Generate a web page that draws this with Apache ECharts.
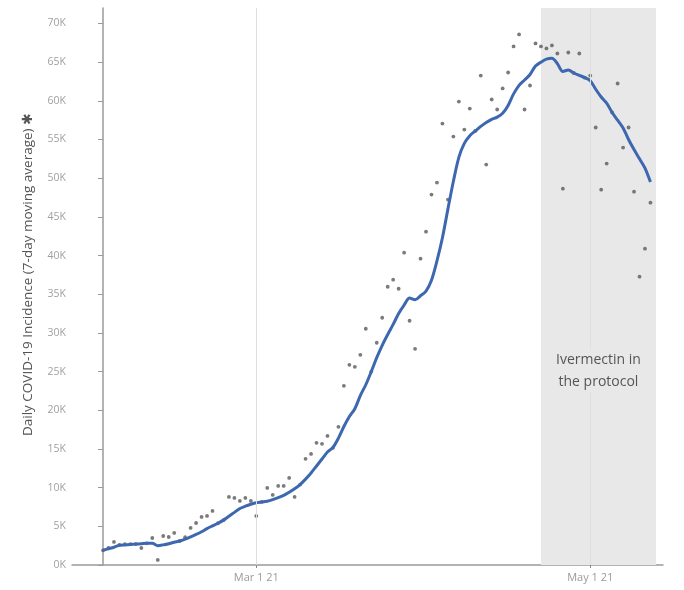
<!DOCTYPE html>
<html><head><meta charset="utf-8">
<script src="https://cdn.jsdelivr.net/npm/echarts@6/dist/echarts.min.js"></script>
<style>html,body{margin:0;padding:0;background:#fff}#c{width:684px;height:590px}</style>
</head><body><div id="c"></div>
<script>
// Day 0 = Feb 1 2021
const startDate = '2021-02-01';
const movingAvg = [
  1900,2100,2300,2550,2600,2650,2700,2750,2800,2800,
  2500,2600,2750,2950,3100,3350,3650,3950,4300,4700,
  5050,5400,5800,6300,6800,7300,7600,7850,8050,8150,
  8250,8450,8700,9000,9400,9850,10400,11100,11900,12800,
  13700,14600,15200,16400,17900,19200,20200,21900,23300,25000,
  26800,28400,29800,31100,32500,33600,34500,34300,34800,35400,
  36800,39300,42300,46000,49600,52700,54500,55500,56100,56700,
  57200,57600,57900,58400,59400,60900,62000,62700,63400,64500,
  65000,65400,65500,64800,63800,64000,63600,63300,63000,62600,
  61500,60500,59700,58500,57500,56500,55000,53700,52500,51300,
  49500
];
const dailyCases = [
  1900,2200,2980,2600,2700,2700,2700,2200,2800,3490,
  650,3750,3620,4140,3100,3600,4790,5430,6210,6340,
  6990,5400,5800,8800,8670,8280,8670,8280,6340,8150,
  9960,9060,10220,10220,11260,8800,10400,13720,14360,15790,
  15660,16690,15140,17860,23160,25880,25620,27170,30540,25000,
  28730,31960,35970,36880,35710,40370,31570,27950,39600,43090,
  47880,49430,57060,47230,55380,59910,56290,59000,56100,63270,
  51760,60170,58880,61600,63660,67030,68580,58880,61980,67420,
  67030,66770,67160,66120,48650,66250,63600,66120,63000,63270,
  56550,48520,51890,58500,62240,53960,56550,48260,37270,40890,
  46840
];
const yTicks = [0,5000,10000,15000,20000,25000,30000,35000,40000,45000,50000,55000,60000,65000,70000];
const xTickDates = ['2021-03-01','2021-05-01'];
const xTickLabels = ['Mar 1 21','May 1 21'];
const xRange = ['2021-01-26 08:00','2021-05-14 07:00'];
const shadeRange = ['2021-04-22 00:00','2021-05-13 00:00'];
const annotation = 'Ivermectin in\nthe protocol';
const annotationY = 25100;   // vertical centre of the annotation, in data units
const yName = 'Daily COVID-19 Incidence (7-day moving average) \u2731';

function parseTs(s){
  const [d,t] = s.split(' ');
  const [y,m,dd] = d.split('-').map(Number);
  const [h,mi] = (t||'00:00').split(':').map(Number);
  return Date.UTC(y,m-1,dd,h,mi);
}
const t0 = parseTs(startDate);
const DAY = 86400000;
const toDay = s => (parseTs(s)-t0)/DAY;   // days since startDate
const lineData = movingAvg.map((v,i)=>[i,v]);
const dotData = dailyCases.map((v,i)=>[i,v]);
const xTicks = xTickDates.map(toDay);
const fmtK = v => (v/1000)+'K';
const shadeArea = [[{xAxis:toDay(shadeRange[0])},{xAxis:toDay(shadeRange[1])}]];

const chart = echarts.init(document.getElementById('c'));
chart.setOption({
  animation:false,
  backgroundColor:'#fff',
  grid:{left:72,right:21,top:8,bottom:25,containLabel:false},
  xAxis:{
    type:'value', min:toDay(xRange[0]), max:toDay(xRange[1]),
    axisLine:{show:true,lineStyle:{color:'#9a9a9a',width:1.5}},
    axisTick:{show:true,customValues:xTicks,length:3,lineStyle:{color:'#888'}},
    axisLabel:{customValues:xTicks,formatter:(v)=>{const i=xTicks.findIndex(t=>Math.abs(t-v)<1e-6);return i>=0?xTickLabels[i]:'';},
      color:'#9a9a9a',fontFamily:'Open Sans',fontSize:11,margin:7},
    splitLine:{show:false}
  },
  yAxis:{
    type:'value', min:0, max:72000,
    name:yName, nameLocation:'middle', nameGap:37, nameRotate:90,
    nameTextStyle:{color:'#555',fontFamily:'Open Sans',fontSize:13.5,padding:[0,0,0,24]},
    axisLine:{show:true,lineStyle:{color:'#9a9a9a',width:1.5}},
    axisTick:{show:true,customValues:yTicks,length:5,lineStyle:{color:'#9a9a9a'}},
    axisLabel:{customValues:yTicks,formatter:fmtK,color:'#a0a0a0',fontFamily:'Open Sans',fontSize:10.5,margin:6},
    splitLine:{show:false}
  },
  series:[
    {
      type:'line', data:[], z:1, silent:true,
      markArea:{silent:true,itemStyle:{color:'#e8e8e8'},label:{show:false},data:shadeArea}
    },
    {
      type:'scatter', data:dotData, symbolSize:3.8, z:2,
      itemStyle:{color:'#595959'},
      markLine:{silent:true,symbol:['none','none'],label:{show:false},
        lineStyle:{color:'#dedede',width:1,type:'solid'},
        data:xTicks.map(t=>({xAxis:t}))
      }
    },
    {
      type:'line', data:lineData, showSymbol:false, smooth:0.3, z:4,
      lineStyle:{color:'#3d68b0',width:3}
    }
  ]
});
// annotation text centred in the shaded band, drawn above the grid line
const cx = (toDay(shadeRange[0]) + toDay(shadeRange[1])) / 2;
const p = chart.convertToPixel({gridIndex:0}, [cx, annotationY]);
chart.setOption({
  graphic:[{
    type:'text', x:p[0], y:p[1], z:100,
    style:{text:annotation, fill:'#555', font:'14px "Open Sans"', lineHeight:22,
      align:'center', verticalAlign:'middle', backgroundColor:'#e8e8e8', padding:[0,2]}
  }]
});
</script>
</body></html>
